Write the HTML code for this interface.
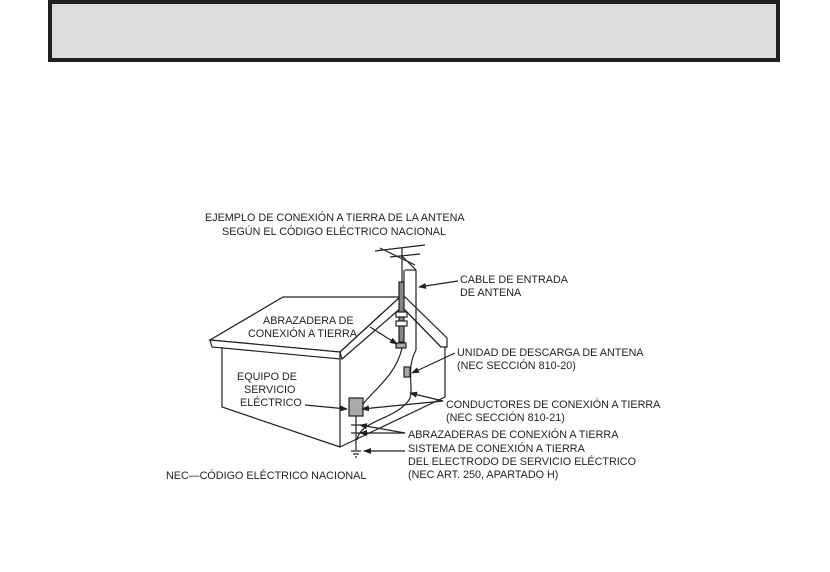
<!DOCTYPE html>
<html><head><meta charset="utf-8"><style>
html,body{margin:0;padding:0;background:#fff;width:830px;height:572px;overflow:hidden}
.hdr{position:absolute;left:48px;top:0;width:724px;height:54px;background:#dcdcdc;border:4px solid #231f20}
svg{position:absolute;left:0;top:0}
text{font-family:"Liberation Sans",sans-serif;font-size:10.8px;fill:#231f20}
</style></head><body>
<div class="hdr"></div>
<svg width="830" height="572" viewBox="0 0 830 572">
<defs><marker id="a" markerWidth="8" markerHeight="6" refX="7" refY="3" orient="auto" markerUnits="userSpaceOnUse"><path d="M0,0 L8,3 L0,6z" fill="#231f20"/></marker></defs>
<g stroke="#231f20" stroke-width="1.2" fill="none">
<polygon points="283,297 400,297 340,352 210,340" fill="#fff"/>
<polygon points="210,340 340,352 340,359 212,347" fill="#fff"/>
<polygon points="400,297 405,297 447,338 447,347 441,347 402,307 342,359 340,352" fill="#fff"/>
<polyline points="222,347 222,407 340,447 340,359"/>
<polyline points="340,447 445,397 445,347"/>
<line x1="402" y1="307" x2="441" y2="347"/>
<line x1="402" y1="248" x2="402" y2="283"/>
<rect x="399" y="282" width="5" height="60" fill="#888"/>
<line x1="375" y1="251" x2="425" y2="245"/>
<line x1="390" y1="257" x2="420" y2="254"/>
<line x1="380" y1="248" x2="415" y2="265"/>
<line x1="402" y1="256" x2="416" y2="270"/>
<rect x="396" y="312" width="11" height="5" fill="#fff"/>
<rect x="396" y="321" width="11" height="5" fill="#fff"/>
<rect x="396" y="343" width="10" height="5" fill="#aaa"/>
<line x1="405" y1="270" x2="416" y2="270"/>
<line x1="416" y1="270" x2="416" y2="350"/>
<line x1="404" y1="270" x2="404" y2="283"/>
<path d="M416,350 C405,370 415,390 409,400 C395,420 360,420 357,440"/>
<path d="M402,348 C395,380 365,395 360,410"/>
<rect x="404" y="367" width="6" height="10" fill="#aaa"/>
<rect x="349" y="398" width="14" height="18" fill="#aaa"/>
<line x1="356" y1="416" x2="356" y2="450"/>
<line x1="351" y1="425" x2="361" y2="425"/>
<line x1="351" y1="433" x2="361" y2="433"/>
<line x1="351" y1="451" x2="361" y2="451"/>
<line x1="353" y1="454" x2="359" y2="454"/>
<line x1="355" y1="457" x2="357" y2="457"/>
<g marker-end="url(#a)">
<line x1="458" y1="281" x2="419" y2="287"/>
<line x1="370" y1="327" x2="397" y2="344"/>
<line x1="455" y1="353" x2="412" y2="373"/>
<line x1="305" y1="405" x2="347" y2="409"/>
<line x1="443" y1="401" x2="410" y2="393"/>
<line x1="443" y1="401" x2="362" y2="409"/>
<line x1="405" y1="433" x2="360" y2="425"/>
<line x1="405" y1="433" x2="360" y2="433"/>
<line x1="405" y1="451" x2="364" y2="451"/>
</g>
</g>
<text x="205" y="221">EJEMPLO DE CONEXIÓN A TIERRA DE LA ANTENA</text>
<text x="222" y="235">SEGÚN EL CÓDIGO ELÉCTRICO NACIONAL</text>
<text x="460" y="283">CABLE DE ENTRADA</text>
<text x="460" y="296">DE ANTENA</text>
<text x="263" y="324">ABRAZADERA DE</text>
<text x="248" y="337">CONEXIÓN A TIERRA</text>
<text x="457" y="356">UNIDAD DE DESCARGA DE ANTENA</text>
<text x="457" y="369">(NEC SECCIÓN 810-20)</text>
<text x="237" y="380">EQUIPO DE</text>
<text x="244" y="393">SERVICIO</text>
<text x="240" y="406">ELÉCTRICO</text>
<text x="446" y="408">CONDUCTORES DE CONEXIÓN A TIERRA</text>
<text x="446" y="421">(NEC SECCIÓN 810-21)</text>
<text x="408" y="438">ABRAZADERAS DE CONEXIÓN A TIERRA</text>
<text x="408" y="452">SISTEMA DE CONEXIÓN A TIERRA</text>
<text x="408" y="465">DEL ELECTRODO DE SERVICIO ELÉCTRICO</text>
<text x="408" y="478">(NEC ART.  250, APARTADO H)</text>
<text x="166" y="479">NEC—CÓDIGO ELÉCTRICO NACIONAL</text>
</svg>
</body></html>
